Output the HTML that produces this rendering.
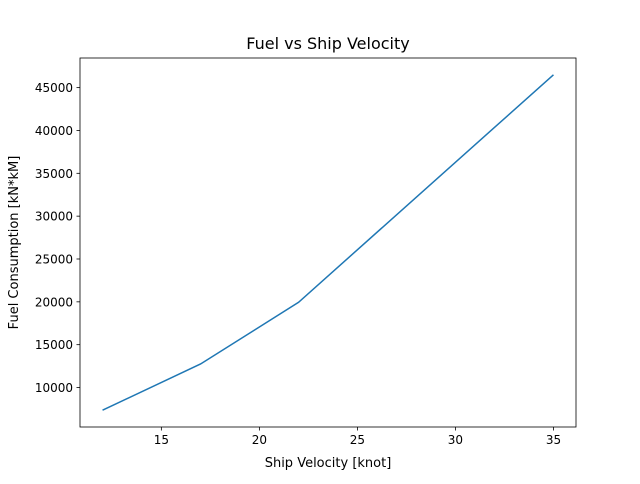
<!DOCTYPE html>
<html><head><meta charset="utf-8"><style>
body{margin:0;background:#fff;font-family:"DejaVu Sans","Liberation Sans",sans-serif;}
</style></head><body>
<svg id="chart" width="640" height="480" xmlns="http://www.w3.org/2000/svg">
<rect width="640" height="480" fill="#fff"/>
<text x="328" y="49" text-anchor="middle" font-size="16">Fuel vs Ship Velocity</text>
<g id="axes"></g>
<rect x="80" y="58" width="496" height="369" fill="none" stroke="#000" stroke-width="0.8"/>
<text x="328" y="467" text-anchor="middle" font-size="13">Ship Velocity [knot]</text>
<text transform="translate(18,242.5) rotate(-90)" text-anchor="middle" font-size="13">Fuel Consumption [kN*kM]</text>
</svg>
<script>
const velocity=[12,17,22,35];
const fuel=[7350,12750,19950,46500];
const xTicks=[15,20,25,30,35];
const yTicks=[10000,15000,20000,25000,30000,35000,40000,45000];
const L=80,R=576,T=58,B=427;
const xmin=12,xmax=35,xm=(xmax-xmin)*0.05;
const ymin=Math.min(...fuel),ymax=Math.max(...fuel),ym=(ymax-ymin)*0.05;
const sx=v=>L+(v-(xmin-xm))/((xmax+xm)-(xmin-xm))*(R-L);
const sy=v=>B-(v-(ymin-ym))/((ymax+ym)-(ymin-ym))*(B-T);
const ns="http://www.w3.org/2000/svg";
const g=document.getElementById('axes');
function mk(t,a){const e=document.createElementNS(ns,t);for(const k in a)e.setAttribute(k,a[k]);g.appendChild(e);return e;}
xTicks.forEach(v=>{const x=sx(v);
const l=mk('line',{x1:x,x2:x,y1:B,y2:B+3.5,stroke:'#000','stroke-width':0.8});


const t=mk('text',{x:x,y:B+17,'text-anchor':'middle','font-size':12});t.textContent=v;

});
yTicks.forEach(v=>{const y=sy(v);
const l=mk('line',{x1:L-3.5,x2:L,y1:y,y2:y,stroke:'#000','stroke-width':0.8});


const t=mk('text',{x:L-7,y:y+4.5,'text-anchor':'end','font-size':12});t.textContent=v;

});
const p=mk('polyline',{points:velocity.map((v,i)=>sx(v)+','+sy(fuel[i])).join(' '),fill:'none',stroke:'#1f77b4','stroke-width':1.5});


</script>
</body></html>
